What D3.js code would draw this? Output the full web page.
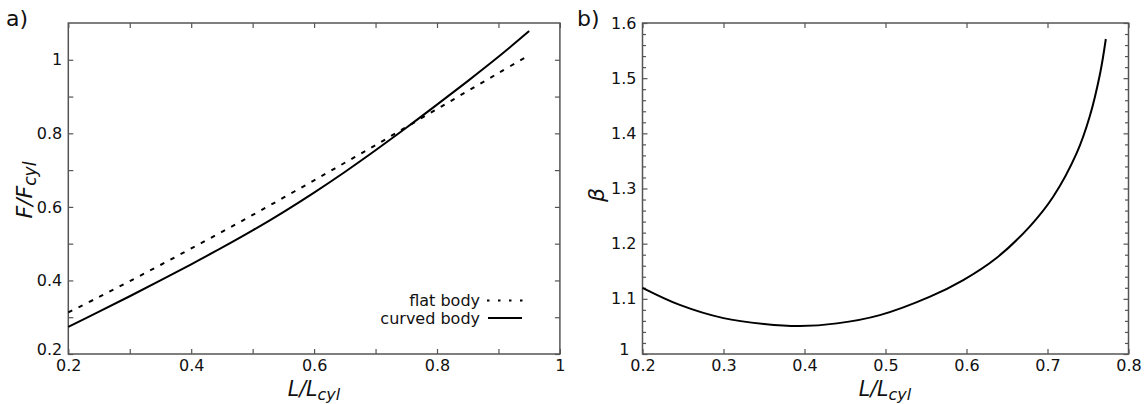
<!DOCTYPE html>
<html>
<head>
<meta charset="utf-8">
<script src="https://cdn.jsdelivr.net/npm/d3@7"></script>
<style>
  html, body { margin: 0; padding: 0; background: #fff; }
  svg { display: block; font-family: "DejaVu Sans", sans-serif; }
</style>
</head>
<body>
<div id="chart"></div>
<script>
/* ── data: panel a) force ratio vs length ratio ── */
var lengthA    = [0.20, 0.25, 0.30, 0.35, 0.40, 0.45, 0.50, 0.55, 0.60, 0.65, 0.70, 0.75, 0.80, 0.85, 0.90, 0.95];
var flatBody   = [0.313, 0.355, 0.398, 0.442, 0.487, 0.532, 0.578, 0.625, 0.672, 0.720, 0.768, 0.817, 0.866, 0.915, 0.964, 1.0125];
var curvedBody = [0.274, 0.315, 0.357, 0.400, 0.444, 0.489, 0.536, 0.586, 0.639, 0.695, 0.754, 0.815, 0.878, 0.942, 1.008, 1.078];

/* ── data: panel b) beta vs length ratio ── */
var lengthB = [0.200, 0.246, 0.300, 0.350, 0.394, 0.440, 0.493, 0.555, 0.596, 0.637, 0.678, 0.707, 0.736, 0.752, 0.765, 0.772];
var betaB   = [1.120, 1.089, 1.065, 1.0545, 1.0508, 1.0555, 1.0705, 1.104, 1.134, 1.174, 1.231, 1.285, 1.364, 1.430, 1.509, 1.571];

/* ── tick values ── */
var aXMajor = [0.2, 0.4, 0.6, 0.8, 1.0];
var aXMinor = [0.3, 0.5, 0.7, 0.9];
var aYMajor = [0.2, 0.4, 0.6, 0.8, 1.0];
var aYMinor = [0.3, 0.5, 0.7, 0.9];
var bXMajor = [0.2, 0.3, 0.4, 0.5, 0.6, 0.7, 0.8];
var bYMajor = [1.0, 1.1, 1.2, 1.3, 1.4, 1.5, 1.6];
var bYMinor = d3.range(1.02, 1.6, 0.02).filter(function (v) { return Math.abs(v * 10 - Math.round(v * 10)) > 0.01; });

var W = 1146, H = 404;
var FRAME = '#555';
var fmt = d3.format('~g');

var svg = d3.select('#chart').append('svg')
  .attr('width', W).attr('height', H);

/* draws the four framed axes, ticks pointing inward */
function frame(g, x, y, o) {
  var x0 = x.range()[0], x1 = x.range()[1];
  var y0 = y.range()[0], y1 = y.range()[1];

  function put(axis, tx, ty) {
    var a = g.append('g').attr('transform', 'translate(' + tx + ',' + ty + ')').call(axis);
    a.select('.domain').remove();
    a.selectAll('line').attr('stroke', FRAME).attr('stroke-width', 1.2);
    a.selectAll('text').attr('font-size', 16).attr('fill', '#111')
      .attr('font-family', '"DejaVu Sans", sans-serif');
    return a;
  }

  put(d3.axisBottom(x).tickValues(o.xMajor).tickSize(-o.xt).tickPadding(6).tickFormat(fmt), 0, y0);
  put(d3.axisTop(x).tickValues(o.xMajor).tickSize(-o.xt).tickFormat(''), 0, y1);
  var left = put(d3.axisLeft(y).tickValues(o.yMajor).tickSize(-o.yt).tickPadding(6).tickFormat(fmt), x0, 0);
  put(d3.axisRight(y).tickValues(o.yMajor).tickSize(-o.yt).tickFormat(''), x1, 0);
  if (o.xMinor) {
    put(d3.axisBottom(x).tickValues(o.xMinor).tickSize(-o.xt).tickFormat(''), 0, y0);
    put(d3.axisTop(x).tickValues(o.xMinor).tickSize(-o.xt).tickFormat(''), 0, y1);
  }
  if (o.yMinor) {
    put(d3.axisLeft(y).tickValues(o.yMinor).tickSize(-o.ytm).tickFormat(''), x0, 0);
    put(d3.axisRight(y).tickValues(o.yMinor).tickSize(-o.ytm).tickFormat(''), x1, 0);
  }

  g.append('rect')
    .attr('x', x0).attr('y', y1)
    .attr('width', x1 - x0).attr('height', y0 - y1)
    .attr('fill', 'none').attr('stroke', FRAME).attr('stroke-width', 1.5);
  return left;
}

/* italic label with subscript, e.g. L/L_cyl */
function subLabel(g, tx, ty, rot, main, sub, size) {
  var t = g.append('text')
    .attr('transform', 'translate(' + tx + ',' + ty + ') rotate(' + rot + ')')
    .attr('text-anchor', 'middle')
    .attr('font-style', 'italic')
    .attr('font-size', size)
    .attr('fill', '#111');
  t.append('tspan').text(main);
  t.append('tspan').attr('font-size', size * 0.78).attr('dy', size * 0.2).text(sub);
  return t;
}

/* ── panel a) ── */
(function panelA() {
  var g = svg.append('g');
  var x = d3.scaleLinear().domain([0.2, 1.0]).range([68.3, 559.9]);
  var y = d3.scaleLinear().domain([0.2, 1.1]).range([354, 23]);

  var left = frame(g, x, y, { xMajor: aXMajor, xMinor: aXMinor, yMajor: aYMajor, yMinor: aYMinor, xt: 5, yt: 5, ytm: 5 });
  left.selectAll('.tick text').filter(function (d) { return d === 0.2; }).attr('dy', '0.05em');

  var line = d3.line()
    .x(function (d, i) { return x(lengthA[i]); })
    .y(function (d) { return y(d); })
    .curve(d3.curveCatmullRom.alpha(0.5));

  g.append('path').datum(flatBody)
    .attr('d', line)
    .attr('fill', 'none').attr('stroke', '#000').attr('stroke-width', 2)
    .attr('stroke-dasharray', '4.5,7');

  g.append('path').datum(curvedBody)
    .attr('d', line)
    .attr('fill', 'none').attr('stroke', '#000').attr('stroke-width', 2);

  /* legend */
  g.append('text').attr('x', 480).attr('y', 306).attr('text-anchor', 'end')
    .attr('font-size', 16).attr('fill', '#111').text('flat body');
  g.append('text').attr('x', 480).attr('y', 324).attr('text-anchor', 'end')
    .attr('font-size', 16).attr('fill', '#111').text('curved body');
  g.append('line').attr('x1', 487).attr('x2', 523).attr('y1', 300.5).attr('y2', 300.5)
    .attr('stroke', '#000').attr('stroke-width', 2).attr('stroke-dasharray', '2.5,8.5');
  g.append('line').attr('x1', 488).attr('x2', 522).attr('y1', 318).attr('y2', 318)
    .attr('stroke', '#000').attr('stroke-width', 2);

  subLabel(g, 314, 396, 0, 'L/L', 'cyl', 20.5);
  subLabel(g, 32, 190, -90, 'F/F', 'cyl', 22);

  g.append('text').attr('x', 6).attr('y', 26).attr('font-size', 22).attr('fill', '#111').text('a)');
}());

/* ── panel b) ── */
(function panelB() {
  var g = svg.append('g');
  var x = d3.scaleLinear().domain([0.2, 0.8]).range([642.5, 1128.5]);
  var y = d3.scaleLinear().domain([1.0, 1.6]).range([354, 23]);

  var left = frame(g, x, y, { xMajor: bXMajor, yMajor: bYMajor, yMinor: bYMinor, xt: 5, yt: 5, ytm: 3.5 });
  /* bottom "1" sits left of the "0.2" label, as in the original */
  left.selectAll('.tick text').filter(function (d) { return d === 1.0; })
    .attr('x', -13).attr('dy', '0.05em');

  var line = d3.line()
    .x(function (d, i) { return x(lengthB[i]); })
    .y(function (d) { return y(d); })
    .curve(d3.curveCatmullRom.alpha(0.5));

  g.append('path').datum(betaB)
    .attr('d', line)
    .attr('fill', 'none').attr('stroke', '#000').attr('stroke-width', 2);

  subLabel(g, 885, 396, 0, 'L/L', 'cyl', 20.5);
  g.append('text')
    .attr('transform', 'translate(604,195) rotate(-90)')
    .attr('text-anchor', 'middle').attr('font-style', 'italic')
    .attr('font-size', 22).attr('fill', '#111').text('β');

  g.append('text').attr('x', 577).attr('y', 26).attr('font-size', 22).attr('fill', '#111').text('b)');
}());
</script>
</body>
</html>
